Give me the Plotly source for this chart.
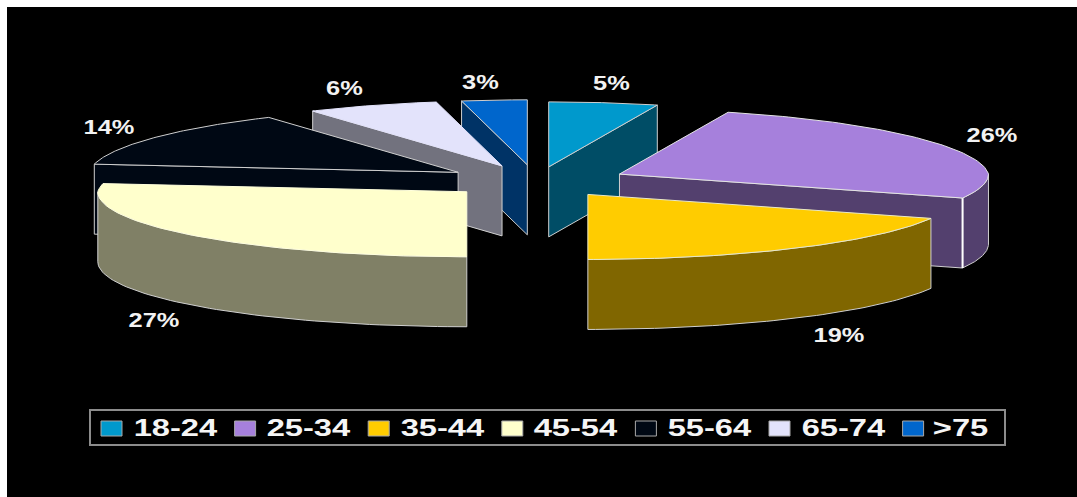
import numpy as np
import plotly.graph_objects as go

# Age bands and their share of the total, in percent
categories = ["18-24", "25-34", "35-44", "45-54", "55-64", "65-74", ">75"]
shares = [5, 26, 19, 27, 14, 6, 3]
top_colors = ["#0099CC", "#A680DC", "#FFCC00", "#FFFFCC", "#000814", "#E3E3FB", "#0066CC"]
side_colors = ["#004D66", "#53406E", "#806600", "#808066", "#000814", "#72727E", "#003366"]
top_edges = ["#CFCFCF", "#E4E4E4", "#E8E8C8", "#FFFFDD", "#CFCFCF", "#E3E3FB", "#CFCFCF"]

# Radial pull of each wedge as a fraction of the radius
pulls = [0.22, 0.25, 0.25, 0.25, 0.25, 0.25, 0.25]

# Pixel placement of the percentage labels
label_x = [611, 992, 839, 154, 109, 344, 480]
label_y = [83, 135, 335, 320, 127, 88, 82]

# Projection of the tilted pie
CX, CY = 536, 181
RX, RY = 369, 65
DEPTH = 70
EDGE = "#CFCFCF"

# Wedges are painted back to front
paint_order = [6, 5, 4, 0, 1, 2, 3]


def rim(theta):
    """Project angles (degrees clockwise from 12 o'clock) onto the ellipse."""
    t = np.radians(theta)
    shrink = 1 - 0.05 * np.clip(np.cos(t), 0, None)
    return RX * np.sin(t) * shrink, -RY * np.cos(t)


def add_face(fig, xs, ys, color, name, edge=EDGE, width=1.0):
    fig.add_trace(go.Scatter(
        x=list(xs), y=list(ys), mode="lines", fill="toself", fillcolor=color,
        line=dict(color=edge, width=width), name=name,
        hoverinfo="name", showlegend=False,
    ))


fig = go.Figure()
bounds = np.concatenate([[0], np.cumsum(shares)]) * 3.6

for i in paint_order:
    a0, a1 = bounds[i], bounds[i + 1]
    mid = np.radians((a0 + a1) / 2)
    ax = CX + pulls[i] * RX * np.sin(mid)
    ay = CY - pulls[i] * RY * np.cos(mid)
    name = categories[i]

    # Outer wall along the front half of the ellipse
    lo, hi = max(a0, 90), min(a1, 270)
    if lo < hi:
        arc = np.linspace(lo, hi, 60)
        wx, wy = rim(arc)
        add_face(fig,
                 np.r_[ax + wx, ax + wx[::-1], ax + wx[0]],
                 np.r_[ay + wy, ay + wy[::-1] + DEPTH, ay + wy[0]],
                 side_colors[i], name)

    # Cut faces that turn toward the viewer
    for angle, visible in ((a0, 180 < a0 < 360), (a1, 0 < a1 < 180)):
        if visible:
            ex, ey = rim(np.array([angle]))
            ex, ey = ax + ex[0], ay + ey[0]
            add_face(fig, [ax, ex, ex, ax, ax],
                     [ay, ey, ey + DEPTH, ay + DEPTH, ay], side_colors[i], name)
            # Bright corner where the cut face of the largest back wedge meets its wall
            if lo < hi and a1 - a0 > 90:
                fig.add_trace(go.Scatter(x=[ex, ex], y=[ey, ey + DEPTH], mode="lines",
                                         line=dict(color="#FFFFFF", width=2),
                                         hoverinfo="skip", showlegend=False))

    # Top surface
    arc = np.linspace(a0, a1, 80)
    tx, ty = rim(arc)
    add_face(fig, np.r_[ax, ax + tx, ax], np.r_[ay, ay + ty, ay], top_colors[i], name, edge=top_edges[i])

# Percentage labels
for share, x, y in zip(shares, label_x, label_y):
    fig.add_annotation(x=x, y=y, text=f"{share}%", showarrow=False,
                       font=dict(family="Liberation Sans", size=20, color="#F2F2F2", weight="bold"))

# Legend strip: framed box, swatches and band names
shapes = [dict(type="rect", x0=90, x1=1005, y0=410, y1=445, line=dict(color="#8C8C8C", width=2))]
for i, name in enumerate(categories):
    sx = 101 + i * 133.6
    shapes.append(dict(type="rect", x0=sx, x1=sx + 21, y0=421, y1=436,
                       fillcolor=top_colors[i], line=dict(color="#A8A8A8", width=1)))
    fig.add_annotation(x=sx + 74 if name != ">75" else sx + 58, y=428, text=name, showarrow=False,
                       font=dict(family="Liberation Sans", size=23, color="#F5F5F5", weight="bold"))

fig.update_layout(
    width=1077, height=497, autosize=False,
    margin=dict(l=7, r=0, t=7, b=0),
    paper_bgcolor="#FFFFFF", plot_bgcolor="#000000",
    shapes=shapes, showlegend=False,
    xaxis=dict(range=[7, 1077], visible=False, fixedrange=True),
    yaxis=dict(range=[497, 7], visible=False, fixedrange=True),
)

# Widen the annotation glyphs to the chart's extended lettering
stretch_text = """
document.getElementById('{plot_id}').querySelectorAll('text.annotation-text').forEach(function (t) {
  var k = t.textContent.indexOf('%') >= 0 ? 1.27 : 1.42;
  t.setAttribute('textLength', t.getComputedTextLength() * k);
  t.setAttribute('lengthAdjust', 'spacingAndGlyphs');
});
"""

fig.write_html("out.html", post_script=stretch_text, config=dict(displayModeBar=False))
